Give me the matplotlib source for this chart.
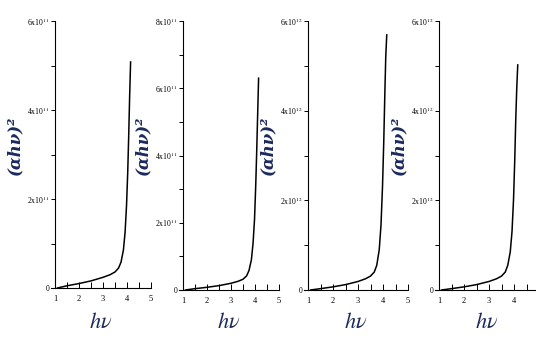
import numpy as np
import matplotlib.pyplot as plt
from matplotlib.ticker import MultipleLocator, FuncFormatter

plt.rcParams['mathtext.fontset'] = 'stix'

# photon energy (eV) sampled along each Tauc curve
hv = [1.10, 1.50, 2.00, 2.50, 3.00, 3.30, 3.50, 3.65, 3.75, 3.85, 3.92, 3.98, 4.03, 4.07, 4.11, 4.15]

# (alpha h nu)^2 for the four samples
s1 = [0.00, 0.05, 0.10, 0.16, 0.24, 0.30, 0.36, 0.45, 0.58, 0.85, 1.25, 1.85, 2.60, 3.40, 4.30, 5.08]   # x1e11
s2 = [0.00, 0.04, 0.08, 0.13, 0.20, 0.26, 0.32, 0.42, 0.58, 0.90, 1.40, 2.10, 3.10, 4.10, 5.20, 6.30]   # x1e11
s3 = [0.00, 0.03, 0.07, 0.12, 0.19, 0.25, 0.31, 0.40, 0.55, 0.90, 1.45, 2.30, 3.30, 4.30, 5.20, 5.69]   # x1e12
s4 = [0.00, 0.03, 0.07, 0.12, 0.19, 0.25, 0.31, 0.40, 0.55, 0.85, 1.30, 2.00, 2.90, 3.80, 4.50, 5.02]   # x1e12

series = [s1, s2, s3, s4]
ymax = [6, 8, 6, 6]
expo = [11, 11, 12, 12]
x_ticks = [1, 2, 3, 4, 5]

W, H = 536, 351
NAVY = '#1b2a5c'

fig = plt.figure(figsize=(W / 100, H / 100), dpi=100)

# axes boxes in pixels: left, x at hv=5, y of zero, y of top
boxes = [(55, 151, 288, 21), (183, 279, 290, 21), (308, 408, 290, 21), (439, 539, 290, 21)]

for i, (ys, top, e) in enumerate(zip(series, ymax, expo)):
    l, r, b, t = boxes[i]
    ax = fig.add_axes([l / W, 1 - b / H, (r - l) / W, (b - t) / H])
    ax.plot(hv, ys, color='black', lw=1.1)
    ax.set_xlim(1, 5)
    ax.set_ylim(0, top)
    for s in ['top', 'right']:
        ax.spines[s].set_visible(False)
    ax.spines['left'].set_linewidth(0.8)
    ax.spines['bottom'].set_linewidth(0.8)
    ax.spines['bottom'].set_bounds(0.85, 5)
    ax.set_xticks(x_ticks)
    if i == 3:
        # the last panel runs past the figure edge, its "5" is not shown
        ax.set_xticklabels(['1', '2', '3', '4', ''])
    ax.xaxis.set_minor_locator(MultipleLocator(0.5))
    ax.yaxis.set_major_locator(MultipleLocator(2))
    ax.yaxis.set_minor_locator(MultipleLocator(1))
    ax.yaxis.set_major_formatter(FuncFormatter(
        lambda v, p, e=e: '0' if v == 0 else '%dx10$^{%d}$' % (v, e)))
    ax.tick_params(axis='x', which='both', direction='in', length=4, width=0.7,
                   labelsize=6, pad=5)
    ax.tick_params(axis='y', which='both', direction='out', length=3, width=0.7,
                   labelsize=5.5, pad=1)
    for lab in ax.get_xticklabels() + ax.get_yticklabels():
        lab.set_family('Liberation Serif')

    cx = (l + (r - l) / 2) / W
    fig.text(cx - 0.005, 1 - 322 / H, r'$h\nu$', ha='center', va='center',
             fontsize=16, color=NAVY)
    fig.text((l - 40) / W, 1 - 145 / H, '(\u03b1h\u03bd)\u00b2', rotation=90,
             ha='center', va='center', fontsize=12, color=NAVY,
             family='DejaVu Serif', weight='bold', style='italic')

plt.savefig('out.png', dpi=100)
